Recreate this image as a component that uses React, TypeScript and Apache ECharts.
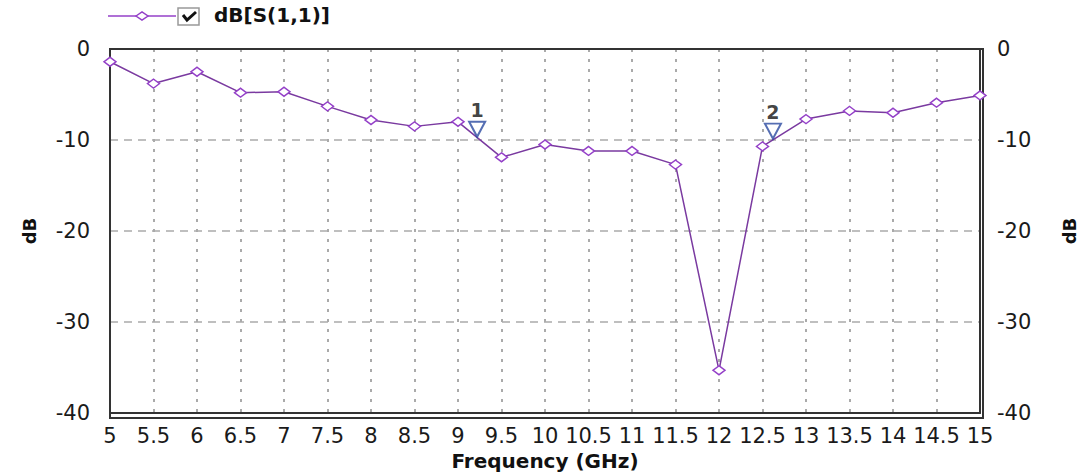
import React, { useEffect, useRef } from "react";
import * as echarts from "echarts";

const frequencies = [5, 5.5, 6, 6.5, 7, 7.5, 8, 8.5, 9, 9.5, 10, 10.5, 11, 11.5, 12, 12.5, 13, 13.5, 14, 14.5, 15];
const s11 = [-1.4, -3.8, -2.5, -4.8, -4.7, -6.3, -7.8, -8.5, -8.0, -11.9, -10.5, -11.2, -11.2, -12.7, -35.3, -10.7, -7.7, -6.8, -7.0, -5.9, -5.1];
const markerFreqs = [9.22, 12.62];
const markerValues = [-9.7, -9.9];
const markerLabels = ["1", "2"];
const seriesName = "dB[S(1,1)]";
const xTitle = "Frequency (GHz)";
const yTitle = "dB";

const PURPLE = "#9440c8";
const FONT = "DejaVu Sans";
const GL = 110, GR = 983, GT = 49, GB = 418;

export default function App() {
  const ref = useRef<HTMLDivElement>(null);
  useEffect(() => {
    if (!ref.current) return;
    const chart = echarts.init(ref.current, null, { renderer: "svg" });
    const yAxisBase = {
      type: "value",
      min: -40,
      max: 0,
      interval: 10,
      name: yTitle,
      nameLocation: "middle",
      nameRotate: 90,
      nameTextStyle: { fontFamily: FONT, fontSize: 18, fontWeight: "bold", color: "#111" },
      axisLine: { show: true, lineStyle: { color: "#333", width: 2 } },
      axisTick: { show: false },
      axisLabel: { fontFamily: FONT, fontSize: 21, color: "#1a1a1a" },
    };
    chart.setOption({
      animation: false,
      backgroundColor: "#fff",
      grid: { left: GL, right: 1086 - GR, top: GT, bottom: 476 - GB, show: false },
      xAxis: {
        type: "value",
        min: 5,
        max: 15,
        interval: 0.5,
        name: xTitle,
        nameLocation: "middle",
        nameGap: 34,
        nameTextStyle: { fontFamily: FONT, fontSize: 20, fontWeight: "bold", color: "#111" },
        axisLine: { show: true, onZero: false, lineStyle: { color: "#333", width: 2 } },
        axisTick: { show: false },
        axisLabel: { fontFamily: FONT, fontSize: 21, color: "#1a1a1a", margin: 12 },
        splitLine: { show: true, lineStyle: { color: "#aaa", type: [3, 7], width: 2 } },
      },
      yAxis: [
        {
          ...yAxisBase,
          position: "left",
          nameGap: 72,
          axisLabel: { ...yAxisBase.axisLabel, margin: 20 },
          splitLine: { show: true, lineStyle: { color: "#aaa", type: [8, 6], width: 1.5 } },
        },
        {
          ...yAxisBase,
          position: "right",
          nameGap: 80,
          axisLabel: { ...yAxisBase.axisLabel, margin: 17 },
          splitLine: { show: false },
        },
      ],
      series: [
        {
          type: "line",
          name: seriesName,
          data: frequencies.map((f, i) => [f, s11[i]]),
          symbol: "diamond",
          symbolSize: [12, 9],
          showAllSymbol: true,
          itemStyle: { color: "#fff", borderColor: PURPLE, borderWidth: 1.5 },
          lineStyle: { color: "#7a3aa0", width: 1.5 },
          z: 3,
        },
        {
          type: "scatter",
          data: markerFreqs.map((f, i) => ({ value: [f, markerValues[i]], label: { formatter: markerLabels[i] } })),
          symbol: "triangle",
          symbolRotate: 180,
          symbolSize: [16, 15],
          symbolOffset: [0, -8],
          itemStyle: { color: "#fff", borderColor: "#2a4aa0", borderWidth: 2 },
          label: {
            show: true,
            position: "top",
            distance: 1,
            fontFamily: FONT,
            fontSize: 19,
            fontWeight: "bold",
            color: "#111",
          },
          z: 4,
        },
      ],
      graphic: [
        {
          type: "rect",
          z: 1,
          shape: { x: GL, y: GT, width: GR - GL, height: GB - GT },
          style: { fill: "none", stroke: "#333", lineWidth: 2 },
        },
        { type: "line", shape: { x1: 108, y1: 16, x2: 176, y2: 16 }, style: { stroke: PURPLE, lineWidth: 1.5 } },
        {
          type: "polygon",
          shape: { points: [[136, 16], [142, 12], [148, 16], [142, 20]] },
          style: { fill: "#fff", stroke: PURPLE, lineWidth: 1.5 },
        },
        { type: "rect", shape: { x: 178, y: 8, width: 21, height: 17 }, style: { fill: "#fff", stroke: "#999", lineWidth: 1.5 } },
        {
          type: "polyline",
          shape: { points: [[183, 15], [187, 20], [196, 12]] },
          style: { stroke: "#111", lineWidth: 3, fill: "none" },
        },
        {
          type: "text",
          left: 214,
          top: 5,
          style: { text: seriesName, fontFamily: FONT, fontSize: 20, fontWeight: "bold", fill: "#111" },
        },
      ],
    });
    return () => chart.dispose();
  }, []);
  return <div ref={ref} style={{ position: "fixed", left: 0, top: 0, width: 1086, height: 476 }} />;
}
